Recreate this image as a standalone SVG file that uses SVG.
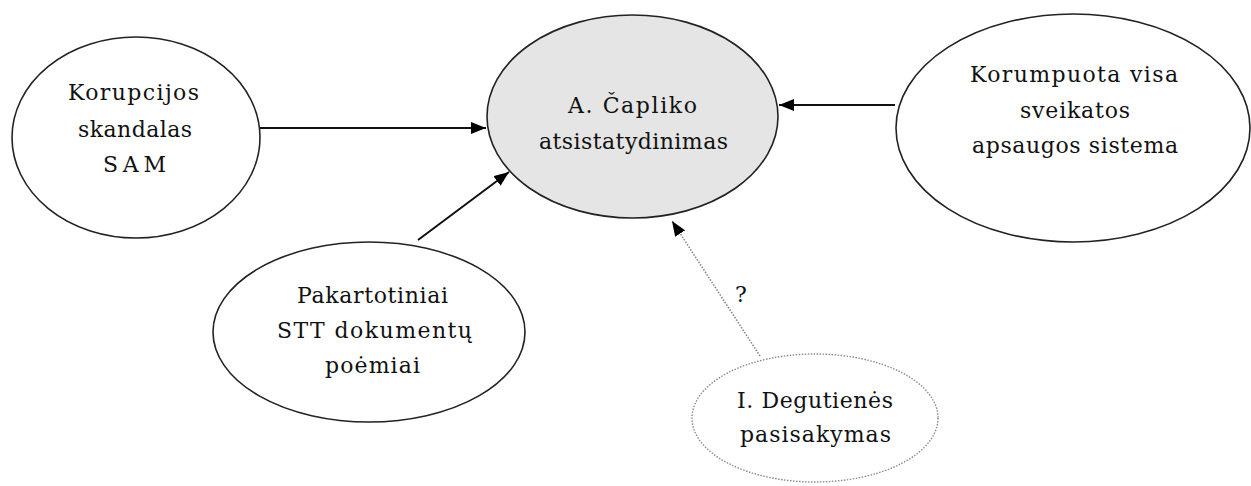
<svg xmlns="http://www.w3.org/2000/svg" width="1251" height="486" viewBox="0 0 1251 486">
<style>
.node{fill:#fff;stroke:#222;stroke-width:1.6}
.main{fill:#e5e5e5;stroke:#222;stroke-width:1.6}
.dot{fill:#fff;stroke:#8a8a8a;stroke-width:1.4;stroke-dasharray:1.5 1.5}
.lbl{font-family:"DejaVu Serif","Liberation Serif",serif;font-size:22px;fill:#111;text-anchor:middle}
.edge{stroke:#111;stroke-width:2;fill:none}
.edge-dot{stroke:#888;stroke-width:1.6;fill:none;stroke-dasharray:1.5 1.5}
</style>
<defs>
<marker id="ah" markerUnits="userSpaceOnUse" markerWidth="16" markerHeight="12" refX="15" refY="6" orient="auto">
<path d="M0,0 L15,6 L0,12 Z" fill="#000"/>
</marker>
</defs>
<rect width="1251" height="486" fill="#fff"/>
<g id="connectors">
<line class="edge" x1="260" y1="128" x2="486" y2="128" marker-end="url(#ah)"/>
<line class="edge" x1="895" y1="105" x2="779" y2="105" marker-end="url(#ah)"/>
<line class="edge" x1="418" y1="240" x2="509" y2="172" marker-end="url(#ah)"/>
<line class="edge-dot" x1="760" y1="356" x2="672" y2="221" marker-end="url(#ah)"/>
<text class="lbl" x="741" y="302">?</text>
</g>
<g id="n-center">
<ellipse class="main" cx="632.5" cy="116.5" rx="145.5" ry="101.5"/>
<text class="lbl" x="632.5" y="113" textLength="129" lengthAdjust="spacing">A. Čapliko</text>
<text class="lbl" x="633.5" y="149" textLength="189" lengthAdjust="spacing">atsistatydinimas</text>
</g>
<g id="n-korupcijos">
<ellipse class="node" cx="136" cy="137.5" rx="124" ry="100.5"/>
<text class="lbl" x="133.5" y="100" textLength="131" lengthAdjust="spacing">Korupcijos</text>
<text class="lbl" x="135" y="136.5" textLength="114" lengthAdjust="spacing">skandalas</text>
<text class="lbl" x="134.5" y="172" textLength="63" lengthAdjust="spacing">SAM</text>
</g>
<g id="n-korumpuota">
<ellipse class="node" cx="1073" cy="128" rx="177" ry="114"/>
<text class="lbl" x="1074" y="82" textLength="208" lengthAdjust="spacing">Korumpuota visa</text>
<text class="lbl" x="1075" y="118" textLength="110" lengthAdjust="spacing">sveikatos</text>
<text class="lbl" x="1075" y="153" textLength="206" lengthAdjust="spacing">apsaugos sistema</text>
</g>
<g id="n-pakartotiniai">
<ellipse class="node" cx="369" cy="332" rx="156" ry="90"/>
<text class="lbl" x="372.5" y="303" textLength="151" lengthAdjust="spacing">Pakartotiniai</text>
<text class="lbl" x="374.5" y="338" textLength="195" lengthAdjust="spacing">STT dokumentų</text>
<text class="lbl" x="372.5" y="373" textLength="95" lengthAdjust="spacing">poėmiai</text>
</g>
<g id="n-degutienes">
<ellipse class="dot" cx="815" cy="418" rx="123" ry="64"/>
<text class="lbl" x="815" y="408" textLength="156" lengthAdjust="spacing">I. Degutienės</text>
<text class="lbl" x="815.5" y="442" textLength="151" lengthAdjust="spacing">pasisakymas</text>
</g>
</svg>
